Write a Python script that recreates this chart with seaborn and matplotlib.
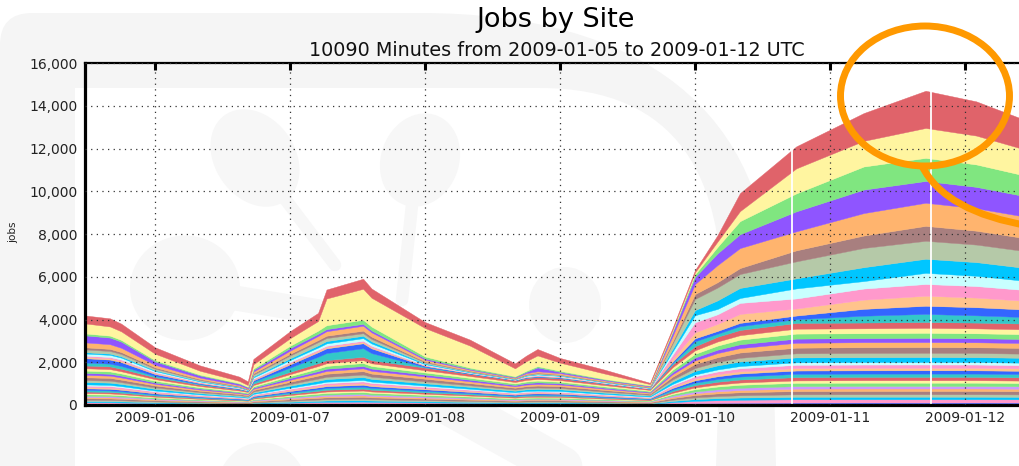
import numpy as np
import pandas as pd
import matplotlib
matplotlib.use("Agg")
import matplotlib.pyplot as plt
import matplotlib.dates as mdates
from matplotlib.patches import Ellipse, PathPatch
from matplotlib.path import Path
from matplotlib.ticker import FuncFormatter
import seaborn as sns

# hours after 2009-01-05 00:00 UTC where the stack was read
hours = [11.5, 16, 18, 24, 32, 39, 40.5, 41.5, 48, 53, 54.5, 61, 62.5, 72, 80,
         88, 90, 92, 96, 104, 112, 116, 120, 124, 128, 138, 150, 161, 170, 180]

# top group of sites (top of the stack first)
red_1 = [370, 380, 360, 300, 250, 200, 170, 250, 330, 380, 420, 470, 430, 280, 280, 230, 260, 300, 220, 180, 60, 80, 100, 300, 840, 1030, 1300, 1740, 1600, 1350]
yellow_1 = [470, 430, 400, 300, 180, 100, 80, 200, 350, 450, 1250, 1450, 1350, 1330, 1030, 370, 450, 500, 380, 250, 60, 60, 100, 250, 470, 1170, 1200, 1400, 1350, 1200]
green_1 = [90, 90, 80, 60, 40, 30, 20, 60, 110, 150, 180, 190, 180, 90, 60, 40, 50, 60, 50, 30, 20, 60, 120, 300, 610, 840, 1080, 1080, 1050, 950]
purple_1 = [330, 310, 290, 160, 100, 70, 60, 80, 120, 100, 100, 90, 90, 60, 40, 30, 60, 180, 60, 40, 30, 180, 330, 550, 650, 935, 1100, 1020, 1000, 950]
orange_1 = [230, 220, 200, 120, 70, 40, 30, 80, 150, 190, 210, 230, 200, 80, 50, 30, 50, 60, 60, 40, 30, 250, 470, 800, 935, 890, 1050, 1080, 1050, 1000]
brown_1 = [100, 100, 90, 60, 40, 25, 15, 60, 80, 100, 110, 120, 110, 40, 20, 10, 20, 30, 20, 15, 10, 100, 230, 250, 280, 515, 580, 700, 650, 600]
sage_1 = [130, 120, 110, 70, 40, 25, 15, 80, 130, 150, 140, 120, 110, 50, 30, 20, 30, 40, 30, 20, 20, 250, 520, 600, 650, 795, 900, 840, 820, 780]
cyan_1 = [60, 60, 60, 40, 30, 20, 10, 50, 80, 100, 110, 110, 100, 40, 20, 10, 20, 20, 20, 10, 10, 120, 240, 400, 470, 470, 650, 660, 640, 600]
lcyan_1 = [100, 100, 90, 60, 30, 20, 10, 60, 90, 100, 110, 120, 110, 40, 20, 10, 30, 40, 30, 20, 10, 150, 330, 250, 230, 470, 350, 520, 480, 420]
pink_1 = [60, 60, 60, 40, 25, 15, 10, 40, 50, 60, 60, 60, 60, 20, 10, 10, 20, 20, 20, 10, 10, 200, 470, 450, 515, 470, 520, 550, 540, 500]
peach_1 = [60, 60, 60, 40, 25, 15, 10, 40, 60, 60, 60, 60, 60, 20, 10, 10, 20, 20, 20, 10, 10, 120, 280, 330, 420, 330, 430, 470, 450, 400]
blue_1 = [200, 190, 180, 90, 40, 20, 10, 60, 150, 210, 220, 230, 220, 50, 20, 10, 20, 20, 20, 10, 5, 60, 140, 130, 150, 170, 320, 380, 380, 350]
teal_1 = [140, 130, 130, 60, 30, 20, 10, 90, 200, 300, 330, 400, 330, 30, 10, 10, 20, 20, 20, 15, 5, 70, 230, 140, 180, 175, 320, 380, 340, 300]

# middle group
red_2 = [130, 126, 119, 91, 67, 50, 46, 70, 109, 137, 147, 158, 147, 123, 102, 81, 88, 91, 88, 70, 53, 133, 192, 224, 245, 269, 270, 272, 270, 266]
yellow_2 = [111, 108, 102, 78, 57, 43, 39, 60, 93, 117, 126, 135, 126, 105, 87, 69, 75, 78, 75, 60, 45, 114, 164, 192, 210, 230, 231, 233, 231, 228]
green_2 = [105, 110, 100, 80, 55, 45, 40, 62, 90, 120, 130, 140, 120, 100, 85, 70, 72, 80, 70, 58, 44, 110, 170, 190, 215, 235, 228, 236, 230, 226]
purple_2 = [95, 88, 86, 62, 50, 35, 34, 52, 80, 95, 108, 110, 108, 85, 75, 60, 70, 75, 60, 48, 40, 98, 140, 158, 178, 195, 190, 198, 190, 188]
orange_2 = [115, 105, 104, 76, 58, 42, 40, 58, 95, 115, 128, 132, 128, 108, 88, 68, 76, 76, 77, 62, 46, 116, 160, 195, 208, 228, 234, 230, 233, 230]
brown_2 = [128, 130, 117, 93, 65, 52, 45, 72, 105, 140, 145, 160, 145, 125, 100, 83, 86, 93, 85, 72, 52, 130, 195, 220, 248, 265, 272, 275, 268, 268]
sage_2 = [90, 92, 83, 66, 47, 37, 32, 48, 76, 100, 103, 115, 102, 90, 72, 57, 62, 64, 64, 51, 37, 93, 135, 162, 172, 190, 195, 192, 195, 192]
cyan_2 = [112, 106, 103, 79, 56, 44, 38, 61, 94, 116, 124, 136, 127, 104, 88, 70, 74, 79, 76, 59, 46, 115, 166, 190, 212, 232, 229, 235, 229, 230]
lcyan_2 = [56, 54, 51, 39, 29, 22, 20, 30, 47, 59, 63, 68, 63, 53, 44, 35, 38, 39, 38, 30, 23, 57, 82, 96, 105, 115, 116, 116, 116, 114]
pink_2 = [74, 72, 68, 52, 38, 29, 26, 40, 62, 78, 84, 90, 84, 70, 58, 46, 50, 52, 50, 40, 30, 76, 110, 128, 140, 154, 154, 155, 154, 152]
peach_2 = [55, 56, 50, 40, 28, 23, 19, 31, 46, 60, 62, 67, 64, 52, 45, 34, 39, 38, 39, 29, 24, 56, 83, 95, 106, 114, 117, 115, 117, 113]
blue_2 = [73, 74, 67, 53, 37, 30, 25, 41, 61, 79, 83, 91, 83, 71, 57, 47, 49, 53, 49, 41, 29, 77, 109, 129, 139, 155, 153, 156, 153, 153]
teal_2 = [75, 71, 69, 51, 39, 28, 27, 39, 63, 77, 85, 89, 85, 69, 59, 45, 51, 51, 51, 39, 31, 75, 111, 127, 141, 153, 155, 154, 155, 151]

# thin sites at the bottom
red_3 = [74, 72, 68, 52, 38, 29, 26, 40, 62, 78, 84, 90, 84, 70, 58, 46, 50, 52, 50, 40, 30, 76, 110, 128, 140, 154, 154, 155, 154, 152]
yellow_3 = [56, 54, 51, 39, 29, 22, 20, 30, 47, 59, 63, 68, 63, 53, 44, 35, 38, 39, 38, 30, 23, 57, 82, 96, 105, 115, 116, 116, 116, 114]
green_3 = [72, 74, 66, 53, 37, 30, 25, 41, 60, 79, 83, 91, 85, 69, 59, 45, 51, 51, 51, 39, 31, 75, 109, 129, 141, 153, 155, 154, 155, 151]
lilac_3 = [57, 53, 52, 38, 30, 21, 21, 29, 48, 58, 64, 67, 62, 54, 43, 36, 37, 40, 37, 31, 22, 58, 81, 97, 104, 116, 115, 117, 115, 115]
orange_3 = [55, 55, 50, 40, 28, 22, 19, 31, 46, 60, 62, 68, 64, 52, 45, 34, 39, 38, 39, 29, 23, 56, 83, 95, 106, 114, 117, 115, 117, 113]
brown_3 = [75, 71, 69, 51, 39, 28, 27, 39, 63, 77, 85, 89, 85, 69, 59, 45, 51, 51, 51, 39, 31, 75, 111, 127, 141, 153, 155, 154, 155, 151]
sage_3 = [56, 54, 51, 39, 29, 22, 20, 30, 47, 59, 63, 68, 63, 53, 44, 35, 38, 39, 38, 30, 23, 57, 82, 96, 105, 115, 116, 116, 116, 114]
cyan_3 = [57, 53, 52, 38, 30, 21, 21, 29, 48, 58, 64, 67, 62, 54, 43, 36, 37, 40, 37, 31, 22, 58, 81, 97, 104, 116, 115, 117, 115, 115]
pink_3 = [74, 72, 68, 52, 38, 29, 26, 40, 62, 78, 84, 90, 84, 70, 58, 46, 50, 52, 50, 40, 30, 76, 110, 128, 140, 154, 154, 155, 154, 152]
blue_3 = [55, 55, 50, 40, 28, 22, 19, 31, 46, 60, 62, 68, 64, 52, 45, 34, 39, 38, 39, 29, 23, 56, 83, 95, 106, 114, 117, 115, 117, 113]

# gaps in the data (hours) and the stack height there
gap_hours = [137.2, 161.9]
gap_tops = [12000, 14700]

pal = {'red': '#e0636a', 'yellow': '#fff5a0', 'green': '#80e680', 'purple': '#8f55ff',
       'orange': '#ffb46e', 'brown': '#a87f7f', 'sage': '#b5c9a8', 'cyan': '#00c6ff',
       'lcyan': '#c8ffff', 'pink': '#ff99cc', 'peach': '#ffc48c', 'blue': '#3366ff',
       'teal': '#33c8c8', 'lilac': '#cc99ff'}

# bottom -> top
stack = [
    (blue_3, 'blue'), (pink_3, 'pink'), (cyan_3, 'cyan'), (sage_3, 'sage'), (brown_3, 'brown'),
    (orange_3, 'orange'), (lilac_3, 'lilac'), (green_3, 'green'), (yellow_3, 'yellow'), (red_3, 'red'),
    (teal_2, 'teal'), (blue_2, 'blue'), (peach_2, 'peach'), (pink_2, 'pink'), (lcyan_2, 'lcyan'),
    (cyan_2, 'cyan'), (sage_2, 'sage'), (brown_2, 'brown'), (orange_2, 'orange'), (purple_2, 'purple'),
    (green_2, 'green'), (yellow_2, 'yellow'), (red_2, 'red'),
    (teal_1, 'teal'), (blue_1, 'blue'), (peach_1, 'peach'), (pink_1, 'pink'), (lcyan_1, 'lcyan'),
    (cyan_1, 'cyan'), (sage_1, 'sage'), (brown_1, 'brown'), (orange_1, 'orange'), (purple_1, 'purple'),
    (green_1, 'green'), (yellow_1, 'yellow'), (red_1, 'red'),
]
layers = [np.array(v, dtype=float) for v, c in stack]
colors = sns.color_palette([pal[c] for v, c in stack])

t0 = pd.Timestamp('2009-01-05')
x = mdates.date2num((t0 + pd.to_timedelta(hours, unit='h')).to_pydatetime())
gap_x = mdates.date2num((t0 + pd.to_timedelta(gap_hours, unit='h')).to_pydatetime())
start = pd.Timestamp('2009-01-05 11:34')
end = start + pd.Timedelta(minutes=10090)

sns.set_theme(style='white')
plt.rcParams['font.family'] = ['DejaVu Sans']

W, H = 1019, 466
fig = plt.figure(figsize=(W / 100, H / 100), dpi=100)
fig.patch.set_facecolor('white')

# faint watermark behind the chart, drawn in pixel coordinates
bg = fig.add_axes([0, 0, 1, 1], zorder=0)
bg.set_xlim(0, W)
bg.set_ylim(H, 0)
bg.axis('off')
wm = '#f5f5f5'
wm2 = '#f7f7f7'
frame = Path([(0, 466), (0, 45), (0, 13), (32, 13), (420, 13),
              (640, 13), (770, 110), (772, 300), (776, 466),
              (716, 466), (722, 300), (722, 180), (680, 88), (540, 88),
              (75, 88), (75, 466), (0, 466)],
             [Path.MOVETO, Path.LINETO, Path.CURVE3, Path.CURVE3, Path.LINETO,
              Path.CURVE4, Path.CURVE4, Path.CURVE4, Path.LINETO,
              Path.LINETO, Path.LINETO, Path.CURVE4, Path.CURVE4, Path.CURVE4,
              Path.LINETO, Path.LINETO, Path.CLOSEPOLY])
bg.add_patch(PathPatch(frame, facecolor=wm, edgecolor='none'))
bg.add_patch(Ellipse((255, 158), 80, 105, angle=-35, facecolor=wm2, edgecolor='none'))
bg.add_patch(Ellipse((420, 160), 78, 95, angle=20, facecolor=wm2, edgecolor='none'))
bg.add_patch(Ellipse((185, 288), 110, 105, facecolor=wm2, edgecolor='none'))
bg.add_patch(Ellipse((565, 305), 72, 76, facecolor=wm2, edgecolor='none'))
bg.add_patch(Ellipse((262, 490), 90, 95, facecolor=wm2, edgecolor='none'))
bg.plot([282, 335], [195, 265], color=wm2, lw=9, solid_capstyle='round')
bg.plot([412, 402], [205, 300], color=wm2, lw=9, solid_capstyle='round')
bg.plot([235, 320], [298, 312], color=wm2, lw=18, solid_capstyle='round')
bg.plot([450, 585], [405, 480], color=wm2, lw=30, solid_capstyle='round')

ax = fig.add_axes([85 / W, 61 / H, (1031 - 85) / W, 342 / H], zorder=1)
ax.patch.set_alpha(0)
ax.stackplot(x, *layers, colors=colors, edgecolor='face', linewidth=0.3)
ax.vlines(gap_x, 0, gap_tops, colors='white', linewidth=1.3, zorder=2)

ax.set_xlim(mdates.date2num(start.to_pydatetime()), mdates.date2num(end.to_pydatetime()))
ax.set_ylim(0, 16000)
ax.set_yticks(np.arange(0, 16001, 2000))
ax.yaxis.set_major_formatter(FuncFormatter(lambda v, p: f'{int(v):,}'))
ax.xaxis.set_major_locator(mdates.DayLocator())
ax.xaxis.set_major_formatter(mdates.DateFormatter('%Y-%m-%d'))

ax.set_axisbelow(False)
ax.grid(True, color='#333333', linestyle=(0, (1, 3.5)), linewidth=0.9)
ax.tick_params(axis='both', direction='in', length=5, width=2.2, colors='black',
               labelsize=10, labelcolor='#222222', top=True, right=False)
ax.tick_params(axis='y', pad=5.5)
ax.tick_params(axis='x', pad=4.5)
for side in ['left', 'bottom']:
    ax.spines[side].set_linewidth(2.3)
    ax.spines[side].set_color('black')
ax.spines['top'].set_linewidth(1.6)
ax.spines['top'].set_color('black')
ax.spines['right'].set_visible(False)
ax.set_xlabel('')
ax.set_ylabel('')

fig.text(556 / W, 1 - 20 / H, 'Jobs by Site', ha='center', va='center', fontsize=19.5, color='black')
fig.text(557 / W, 1 - 50 / H, '10090 Minutes from 2009-01-05 to 2009-01-12 UTC',
         ha='center', va='center', fontsize=13.8, color='#111111')
fig.text(13 / W, 1 - 232 / H, 'jobs', rotation=90, ha='center', va='center', fontsize=7.5, color='#222222')

# orange highlight around the peak
ov = fig.add_axes([0, 0, 1, 1], zorder=3)
ov.set_xlim(0, W)
ov.set_ylim(H, 0)
ov.axis('off')
ov.add_patch(Ellipse((925, 96), 169, 140, facecolor='none', edgecolor='#ff9900', lw=5))
tail = Path([(922, 166), (945, 212), (1030, 226)], [Path.MOVETO, Path.CURVE3, Path.CURVE3])
ov.add_patch(PathPatch(tail, facecolor='none', edgecolor='#ff9900', lw=5, capstyle='butt'))

fig.savefig('out.png', dpi=100, facecolor=fig.get_facecolor())
